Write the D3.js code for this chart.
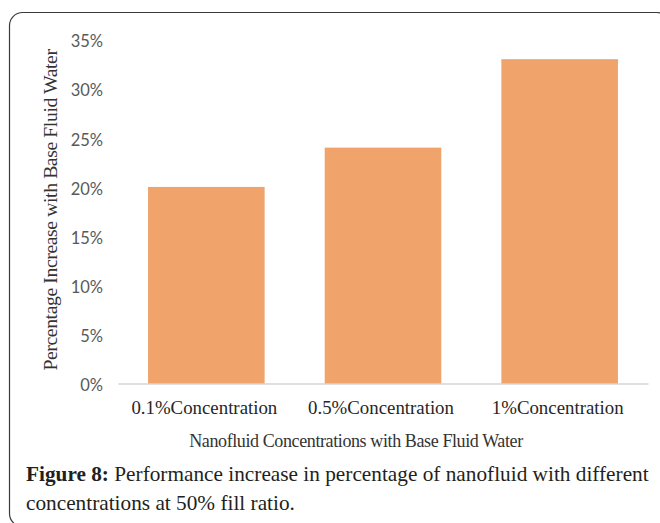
<!DOCTYPE html>
<html>
<head>
<meta charset="utf-8">
<script src="https://cdn.jsdelivr.net/npm/d3@7"></script>
<style>
  html, body { margin: 0; padding: 0; background: #fff; }
  svg { display: block; }
  .serif { font-family: "Times New Roman", "Liberation Serif", Times; }
  .sans { font-family: "Lato", "Open Sans", Arial; }
</style>
</head>
<body>
<svg id="chart" width="660" height="523"></svg>
<script>
// Performance increase per nanofluid concentration (base fluid: water)
const categories = ["0.1%Concentration", "0.5%Concentration", "1%Concentration"];
const values = [20, 24, 33];
const yTicks = [0, 5, 10, 15, 20, 25, 30, 35];

const svg = d3.select("#chart");

// scale a text's font size so that it spans the given width
function fitWidth(sel, width) {
  sel.each(function () {
    const t = d3.select(this);
    const fs = parseFloat(t.attr("font-size"));
    const w = this.getComputedTextLength();
    if (w > 0) t.attr("font-size", (fs * width / w).toFixed(2));
  });
}

// rounded figure frame
svg.append("rect")
  .attr("x", 9.5).attr("y", 12.5)
  .attr("width", 660).attr("height", 514)
  .attr("rx", 13).attr("ry", 13)
  .attr("fill", "none")
  .attr("stroke", "#3a3a3a")
  .attr("stroke-width", 1.2);

const x = d3.scaleBand()
  .domain(categories)
  .range([118, 648])
  .paddingInner(0.34)
  .paddingOuter(0.17);

const y = d3.scaleLinear()
  .domain([0, 35])
  .range([383.5, 39.5]);

// bars
svg.append("g")
  .selectAll("rect")
  .data(values)
  .join("rect")
  .attr("x", (d, i) => x(categories[i]))
  .attr("y", d => y(d))
  .attr("width", x.bandwidth())
  .attr("height", d => y(0) - y(d))
  .attr("fill", "#F0A46C");

// y axis tick labels
const yAxis = d3.axisLeft(y)
  .tickValues(yTicks)
  .tickFormat(d => d + "%")
  .tickSize(0)
  .tickPadding(0);
const gy = svg.append("g")
  .attr("transform", "translate(103,2)")
  .call(yAxis);
gy.attr("font-family", null).attr("font-size", null);
gy.select(".domain").remove();
gy.selectAll("text")
  .attr("class", "sans")
  .attr("fill", "#595959")
  .attr("font-size", 16.5);

// x axis baseline and category labels
const xAxis = d3.axisBottom(x).tickSize(0).tickPadding(0);
const gx = svg.append("g")
  .attr("transform", `translate(0,${y(0)})`)
  .call(xAxis);
gx.attr("font-family", null).attr("font-size", null);
gx.select(".domain")
  .attr("stroke", "#BFBFBF")
  .attr("stroke-width", 1.2);
gx.selectAll("text")
  .attr("class", "serif")
  .attr("dy", null)
  .attr("y", 30)
  .attr("fill", "#262626")
  .attr("font-size", 20);
// size the labels so the first one spans its measured width
gx.selectAll(".tick text").call(sel => {
  const w = sel.nodes()[0].getComputedTextLength();
  sel.attr("font-size", (20 * 146 / w).toFixed(2));
});
gx.selectAll(".tick").attr("transform", d => `translate(${x(d) + x.bandwidth() / 2 - 2},0)`);

// axis titles
svg.append("text")
  .attr("class", "serif")
  .attr("x", 356).attr("y", 447)
  .attr("text-anchor", "middle")
  .attr("fill", "#333")
  .attr("font-size", 15)
  .attr("letter-spacing", -0.4)
  .text("Nanofluid Concentrations with Base Fluid Water")
  .call(fitWidth, 330);

svg.append("text")
  .attr("class", "serif")
  .attr("transform", "translate(57,210) rotate(-90)")
  .attr("text-anchor", "middle")
  .attr("fill", "#333")
  .attr("font-size", 15)
  .attr("letter-spacing", -0.4)
  .text("Percentage Increase with Base Fluid Water")
  .call(fitWidth, 316);

// figure caption
const cap = svg.append("text")
  .attr("class", "serif")
  .attr("x", 26).attr("y", 481)
  .attr("fill", "#231f20")
  .attr("font-size", 19);
cap.append("tspan").attr("font-weight", "bold").text("Figure 8:");
cap.append("tspan").text(" Performance increase in percentage of nanofluid with different");
fitWidth(cap, 623);

svg.append("text")
  .attr("class", "serif")
  .attr("x", 26).attr("y", 510)
  .attr("fill", "#231f20")
  .attr("font-size", cap.attr("font-size"))
  .text("concentrations at 50% fill ratio.");
</script>
</body>
</html>
